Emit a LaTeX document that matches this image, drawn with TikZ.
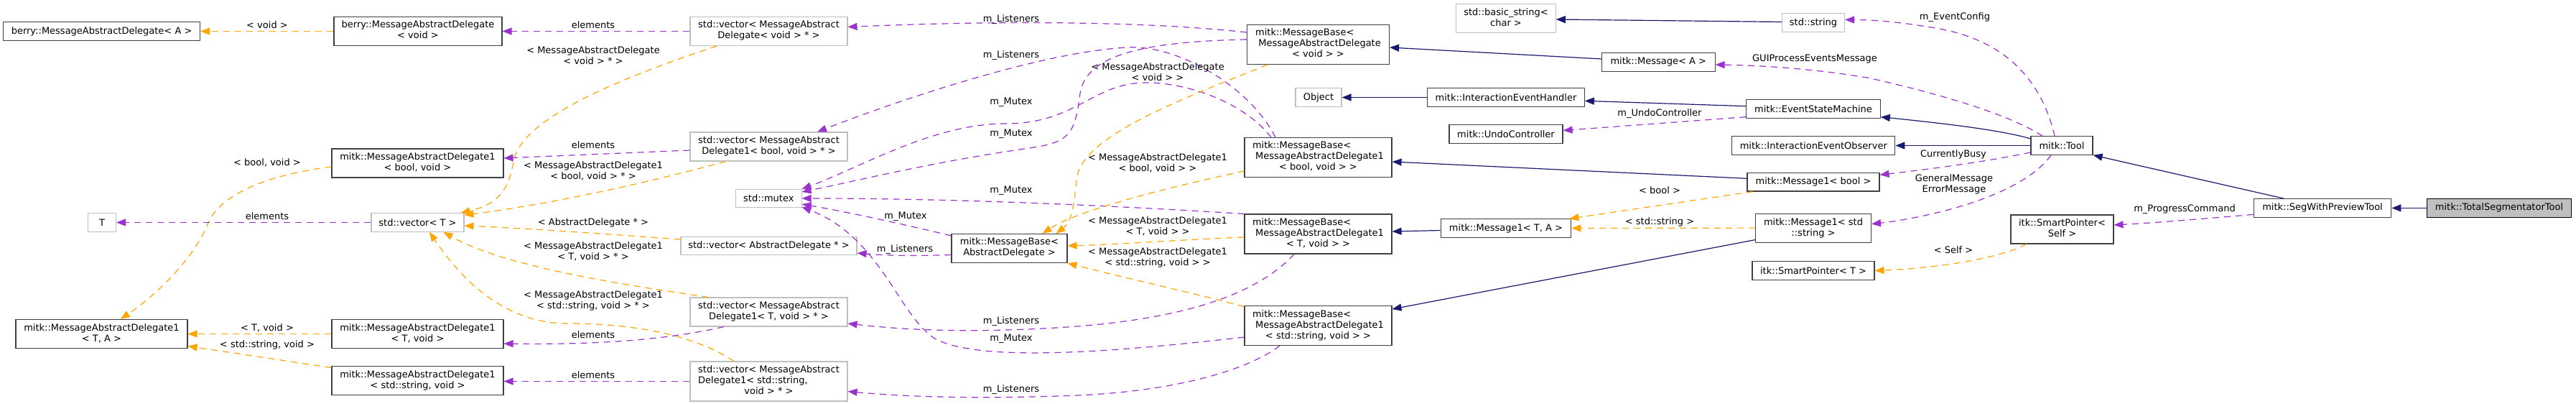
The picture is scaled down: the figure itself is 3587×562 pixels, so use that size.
\documentclass[tikz,border=0pt]{standalone}
\usepackage{fontspec}
\setmainfont{DejaVu Sans}
\usetikzlibrary{arrows.meta,calc}
\definecolor{mblue}{HTML}{191970}
\definecolor{purp}{HTML}{9A32CD}
\definecolor{orng}{HTML}{FFA500}
\definecolor{gborder}{HTML}{BFBFBF}
\definecolor{dborder}{HTML}{404040}
\newcommand{\twol}[2]{\begin{tabular}{@{}l@{}}#1\\\multicolumn{1}{@{}c@{}}{#2}\end{tabular}}
\newcommand{\threel}[3]{\begin{tabular}{@{}l@{}}#1\\#2\\\multicolumn{1}{@{}c@{}}{#3}\end{tabular}}
\begin{document}
\begin{tikzpicture}[x=1bp,y=-1bp,
  every node/.style={font=\fontsize{13bp}{15bp}\selectfont, inner sep=0pt},
  cls/.style={draw=dborder, fill=white, line width=1.1bp, align=center, minimum height=25.5bp},
  ext/.style={cls, draw=gborder},
  two/.style={minimum height=40bp},
  three/.style={minimum height=55bp},
  lbl/.style={align=center},
  inh/.style={draw=mblue, line width=1.2bp, -{Triangle[length=13bp,width=10bp]}},
  use/.style={draw=purp, line width=1.2bp, dash pattern=on 9bp off 7bp, -{Triangle[length=13bp,width=10bp]}},
  tpl/.style={draw=orng, line width=1.2bp, dash pattern=on 9bp off 7bp, -{Triangle[length=13bp,width=10bp]}}
]
\useasboundingbox[fill=white] (0,0) rectangle (3587,562);

% ---- nodes ----
\node[cls, minimum width=274bp] (bA) at (141.6,43.5) {berry::MessageAbstractDelegate< A >};
\node[cls, two, minimum width=234bp] (bV) at (582,43.5) {\twol{berry::MessageAbstractDelegate}{< void >}};
\node[cls, two, minimum width=239bp] (dB) at (581.5,227) {\twol{mitk::MessageAbstractDelegate1}{< bool, void >}};
\node[ext, minimum width=39bp] (T) at (142,309.5) {T};
\node[ext, minimum width=129bp] (vT) at (581.5,309.5) {std::vector< T >};
\node[cls, two, minimum width=239bp] (dTA) at (141.5,464.5) {\twol{mitk::MessageAbstractDelegate1}{< T, A >}};
\node[cls, two, minimum width=239bp] (dTV) at (581.5,464.5) {\twol{mitk::MessageAbstractDelegate1}{< T, void >}};
\node[cls, two, minimum width=239bp] (dSV) at (581.5,529.5) {\twol{mitk::MessageAbstractDelegate1}{< std::string, void >}};
\node[ext, two, minimum width=219bp] (vV) at (1070.5,43.5) {\twol{std::vector< MessageAbstract}{Delegate< void > * >}};
\node[ext, two, minimum width=219bp] (vB) at (1070.5,204) {\twol{std::vector< MessageAbstract}{Delegate1< bool, void > * >}};
\node[ext, minimum width=91.5bp] (mtx) at (1070.3,276) {std::mutex};
\node[ext, minimum width=245bp] (vAD) at (1070.5,342) {std::vector< AbstractDelegate * >};
\node[ext, two, minimum width=219bp] (vTV) at (1070.5,434) {\twol{std::vector< MessageAbstract}{Delegate1< T, void > * >}};
\node[ext, three, minimum width=219bp] (vSV) at (1070.5,530.5) {\threel{std::vector< MessageAbstract}{Delegate1< std::string,}{void > * >}};
\node[cls, three, minimum width=198bp] (mbV) at (1835.5,62) {\threel{mitk::MessageBase<}{\ MessageAbstractDelegate}{< void > >}};
\node[cls, three, minimum width=205bp] (mbB) at (1835.5,219) {\threel{mitk::MessageBase<}{\ MessageAbstractDelegate1}{< bool, void > >}};
\node[cls, three, minimum width=205bp] (mbT) at (1835.5,325.5) {\threel{mitk::MessageBase<}{\ MessageAbstractDelegate1}{< T, void > >}};
\node[cls, three, minimum width=205bp] (mbS) at (1835.5,453) {\threel{mitk::MessageBase<}{\ MessageAbstractDelegate1}{< std::string, void > >}};
\node[cls, two, minimum width=161bp] (mbAD) at (1405.5,345.5) {\twol{mitk::MessageBase<}{AbstractDelegate >}};
\node[ext, minimum width=64bp] (Obj) at (1836,135.5) {Object};
\node[cls, minimum width=218.5bp] (IEH) at (2097,135.5) {mitk::InteractionEventHandler};
\node[cls, minimum width=158bp] (UC) at (2097,186.5) {mitk::UndoController};
\node[cls, minimum width=181.5bp] (M1TA) at (2097,317.5) {mitk::Message1< T, A >};
\node[ext, two, minimum width=138.5bp] (bstr) at (2097,25.7) {\twol{std::basic\_string<}{char >}};
\node[ext, minimum width=87bp] (str) at (2525,31.5) {std::string};
\node[cls, minimum width=157.5bp] (MA) at (2309.3,86.4) {mitk::Message< A >};
\node[cls, minimum width=186.5bp] (ESM) at (2525,151.7) {mitk::EventStateMachine};
\node[cls, minimum width=227bp] (IEO) at (2525.3,202.5) {mitk::InteractionEventObserver};
\node[cls, minimum width=184bp] (M1B) at (2525,253.3) {mitk::Message1< bool >};
\node[cls, two, minimum width=161bp] (M1S) at (2525,317.6) {\twol{mitk::Message1< std}{::string >}};
\node[cls, minimum width=170bp] (SPT) at (2525,376.5) {itk::SmartPointer< T >};
\node[cls, minimum width=86bp] (Tool) at (2871,202.5) {mitk::Tool};
\node[cls, two, minimum width=143bp] (SPS) at (2871.5,319) {\twol{itk::SmartPointer<}{Self >}};
\node[cls, minimum width=191.6bp] (SWPT) at (3234,289.4) {mitk::SegWithPreviewTool};
\node[cls, draw=black, fill=gborder, minimum width=201.5bp] (TST) at (3480,289.4) {mitk::TotalSegmentatorTool};

% ---- left part ----
\draw[tpl] (bV.west) -- (bA.east);
\node[lbl] (l1) at (372,35) {< void >};
\draw[use] (vV.west) -- (bV.east);
\node[lbl] (l2) at (826,35) {elements};
\draw[tpl] ($(vV.south)+(-72.5,0)$) .. controls (860,110) and (725,165) .. (715,225) .. controls (708,268) and (690,285) .. ($(vT.north)+(60,0)$);
\node[lbl] (l3) at (826,77) {< MessageAbstractDelegate\\< void > * >};
\draw[use] ($(vB.west)+(0,5)$) -- ($(dB.east)+(0,-7)$);
\node[lbl] (l4) at (826,202) {elements};
\draw[tpl] ($(vB.south)+(-60,0)$) .. controls (900,255) and (760,285) .. ($(vT.north east)+(0,3)$);
\node[lbl] (l5) at (826,237.5) {< MessageAbstractDelegate1\\< bool, void > * >};
\draw[tpl] ($(dB.west)+(0,5)$) .. controls (360,245) and (305,275) .. (290,310) .. controls (272,355) and (225,405) .. ($(dTA.north)+(26.5,0)$);
\node[lbl] (l6) at (372,226) {< bool, void >};
\draw[use] (vT.west) -- (T.east);
\node[lbl] (l7) at (372,301) {elements};
\draw[tpl] ($(vAD.west)+(0,-9)$) .. controls (850,326) and (740,318) .. ($(vT.east)+(0,4.5)$);
\node[lbl] (l8) at (826,310) {< AbstractDelegate * >};
\draw[tpl] ($(vTV.north west)+(26,0)$) .. controls (860,395) and (700,370) .. ($(vT.south east)+(-29,0)$);
\node[lbl] (l9) at (826,350) {< MessageAbstractDelegate1\\< T, void > * >};
\draw[tpl] ($(vSV.north)+(-48.5,0)$) .. controls (965,465) and (880,450) .. (790,450) .. controls (700,450) and (640,385) .. ($(vT.south)+(16.5,0)$);
\node[lbl] (l10) at (826,418) {< MessageAbstractDelegate1\\< std::string, void > * >};
\draw[use] ($(vTV.south)+(-62.5,0)$) .. controls (940,470) and (850,480) .. ($(dTV.east)+(0,13.5)$);
\node[lbl] (l11) at (826,466) {elements};
\draw[use] (vSV.west) -- ($(dSV.east)+(0,1)$);
\node[lbl] (l12) at (826,522) {elements};
\draw[tpl] (dTV.west) -- (dTA.east);
\node[lbl] (l13) at (372,456) {< T, void >};
\draw[tpl] ($(dSV.west)+(0,-18)$) -- ($(dTA.east)+(0,17)$);
\node[lbl] (l14) at (372,480) {< std::string, void >};

% ---- MessageBase usage ----
\draw[use] ($(mbV.west)+(0,-17)$) .. controls (1600,30) and (1400,28) .. ($(vV.east)+(0,-6)$);
\node[lbl] (l15) at (1408,27) {m\_Listeners};
\draw[use] ($(mbB.north)+(-59.5,0)$) .. controls (1740,120) and (1640,62) .. (1570,66) .. controls (1450,72) and (1250,140) .. ($(vB.north)+(67.5,0)$);
\node[lbl] (l16) at (1408,77) {m\_Listeners};
\draw[use] ($(mbV.west)+(0,-7)$) .. controls (1580,58) and (1512,80) .. (1504,130) .. controls (1497,185) and (1490,197) .. (1440,205) .. controls (1300,225) and (1200,250) .. ($(mtx.east)+(0,-9)$);
\node[lbl] (l17) at (1408,186) {m\_Mutex};
\draw[use] ($(mbB.north)+(-65.5,0)$) .. controls (1730,140) and (1650,115) .. (1597,115) .. controls (1520,115) and (1500,172) .. (1400,172) .. controls (1300,172) and (1200,232) .. ($(mtx.east)+(0,-13)$);
\node[lbl] (l18) at (1408,142) {m\_Mutex};
\draw[use] (mbT.north west) .. controls (1500,283) and (1300,276) .. (mtx.east);
\node[lbl] (l19) at (1408,265) {m\_Mutex};
\draw[use] ($(mbAD.north west)+(0,3)$) .. controls (1250,310) and (1180,295) .. ($(mtx.east)+(0,8)$);
\node[lbl] (l20) at (1261,301) {m\_Mutex};
\draw[use] ($(mbS.west)+(0,16)$) .. controls (1550,490) and (1360,505) .. (1300,470) .. controls (1250,435) and (1225,330) .. ($(mtx.east)+(0,12)$);
\node[lbl] (l21) at (1408,471) {m\_Mutex};
\draw[use] ($(mbAD.west)+(0,9)$) .. controls (1280,356) and (1240,356) .. ($(vAD.east)+(0,10)$);
\node[lbl] (l22) at (1260,347) {m\_Listeners};
\draw[use] ($(mbT.south)+(-33.5,0)$) .. controls (1750,410) and (1650,442) .. (1500,454) .. controls (1350,465) and (1250,458) .. ($(vTV.east)+(0,16)$);
\node[lbl] (l23) at (1408,447) {m\_Listeners};
\draw[use] ($(mbS.south)+(-53.5,0)$) .. controls (1730,520) and (1620,545) .. (1500,550) .. controls (1350,556) and (1250,551) .. ($(vSV.east)+(0,14)$);
\node[lbl] (l24) at (1408,542) {m\_Listeners};

% ---- MessageBase template instances ----
\draw[tpl] ($(mbV.south)+(-70.5,0)$) .. controls (1640,140) and (1505,190) .. (1499,250) .. controls (1495,295) and (1490,310) .. ($(mbAD.north)+(65,0)$);
\node[lbl] (l25) at (1612,100) {< MessageAbstractDelegate\\< void > >};
\draw[tpl] ($(mbB.west)+(0,19)$) .. controls (1620,262) and (1500,293) .. ($(mbAD.north)+(46,0)$);
\node[lbl] (l26) at (1612,227) {< MessageAbstractDelegate1\\< bool, void > >};
\draw[tpl] ($(mbT.west)+(0,4.5)$) .. controls (1650,333) and (1560,340) .. ($(mbAD.east)+(0,-3.5)$);
\node[lbl] (l27) at (1612,315) {< MessageAbstractDelegate1\\< T, void > >};
\draw[tpl] ($(mbS.north west)+(0,1.5)$) .. controls (1650,405) and (1560,385) .. (mbAD.south east);
\node[lbl] (l28) at (1612,358) {< MessageAbstractDelegate1\\< std::string, void > >};

% ---- inheritance ----
\draw[inh] ($(MA.west)+(0,-4.4)$) -- ($(mbV.east)+(0,4)$);
\draw[inh] (IEH.west) -- (Obj.east);
\draw[inh] ($(ESM.west)+(0,-4)$) -- ($(IEH.east)+(0,4.8)$);
\draw[use] ($(ESM.west)+(0,11)$) -- ($(UC.east)+(0,-5)$);
\node[lbl] (l32) at (2311,158) {m\_UndoController};
\draw[inh] ($(M1B.west)+(0,-5)$) -- ($(mbB.east)+(0,6)$);
\draw[inh] ($(M1TA.west)+(0,3)$) -- ($(mbT.east)+(0,-3.5)$);
\draw[inh] ($(M1S.west)+(0,16)$) -- ($(mbS.east)+(0,-23)$);
\draw[inh] ($(str.west)+(0,-1)$) -- ($(bstr.east)+(0,1.3)$);
\draw[tpl] ($(M1B.south west)+(8,0)$) -- ($(M1TA.north east)+(-3,0)$);
\node[lbl] (l33) at (2311,265) {< bool >};
\draw[tpl] ($(M1S.west)+(0,-0.5)$) -- (M1TA.east);
\node[lbl] (l34) at (2311,309) {< std::string >};
\draw[inh] ($(Tool.west)+(0,-9.5)$) .. controls (2790,182) and (2720,173) .. ($(ESM.east)+(0,11)$);
\draw[inh] (Tool.west) -- (IEO.east);
\draw[inh] ($(SWPT.north)+(-54,0)$) -- (Tool.south east);
\draw[inh] (TST.west) -- (SWPT.east);

% ---- Tool usage ----
\draw[use] ($(Tool.north)+(-10,0)$) .. controls (2845,120) and (2800,58) .. (2700,40) .. controls (2650,31) and (2610,27.5) .. ($(str.east)+(0,-4)$);
\node[lbl] (l41) at (2722,24.5) {m\_EventConfig};
\draw[use] ($(Tool.north)+(-27,0)$) .. controls (2800,160) and (2700,130) .. (2600,108) .. controls (2520,95) and (2450,91) .. ($(MA.east)+(0,3.6)$);
\node[lbl] (l42) at (2527,82) {GUIProcessEventsMessage};
\draw[use] ($(Tool.west)+(0,9.5)$) .. controls (2760,226) and (2680,236) .. ($(M1B.east)+(0,-10)$);
\node[lbl] (l43) at (2720,214.5) {CurrentlyBusy};
\draw[use] ($(Tool.south)+(-15,0)$) .. controls (2835,245) and (2790,270) .. (2720,290) .. controls (2680,301) and (2640,308) .. ($(M1S.east)+(0,-6)$);
\node[lbl] (l44) at (2721,256.5) {GeneralMessage\\ErrorMessage};
\draw[tpl] ($(SPS.south)+(-50,0)$) .. controls (2790,358) and (2700,373) .. (SPT.east);
\node[lbl] (l45) at (2720,347.5) {< Self >};
\draw[use] ($(SWPT.west)+(0,9)$) .. controls (3060,305) and (3000,310) .. ($(SPS.east)+(0,-6)$);
\node[lbl] (l46) at (3042,291.4) {m\_ProgressCommand};
\end{tikzpicture}
\end{document}
